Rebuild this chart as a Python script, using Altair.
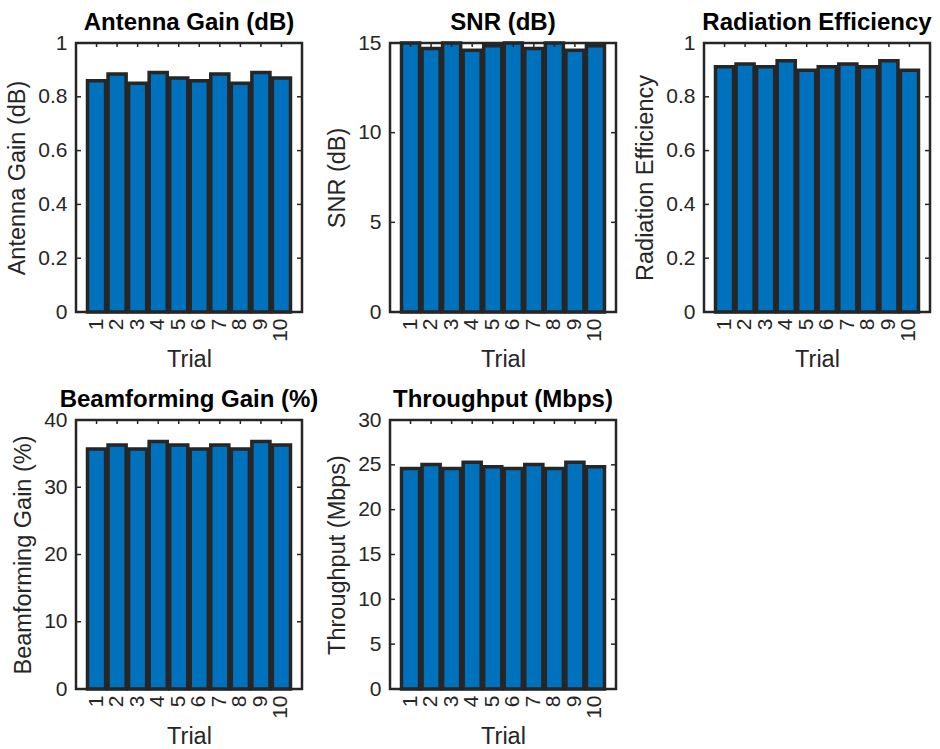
import altair as alt
import pandas as pd

trials = ["1", "2", "3", "4", "5", "6", "7", "8", "9", "10"]

antenna_gain = [0.86, 0.885, 0.85, 0.89, 0.87, 0.86, 0.885, 0.85, 0.89, 0.87]
snr = [15.0, 14.7, 15.0, 14.6, 14.85, 15.0, 14.7, 15.0, 14.6, 14.85]
rad_eff = [0.912, 0.922, 0.912, 0.934, 0.899, 0.912, 0.922, 0.912, 0.934, 0.899]
beam_gain = [35.7, 36.3, 35.7, 36.8, 36.3, 35.7, 36.3, 35.7, 36.8, 36.3]
throughput = [24.6, 25.05, 24.6, 25.3, 24.8, 24.6, 25.05, 24.6, 25.3, 24.8]

ticks_unit = [0, 0.2, 0.4, 0.6, 0.8, 1]
ticks_snr = [0, 5, 10, 15]
ticks_beam = [0, 10, 20, 30, 40]
ticks_thr = [0, 5, 10, 15, 20, 25, 30]

FONT = "Liberation Sans"
AX = "#262626"
BAR = "#0072BD"
W, H = 226, 269


def panel(values, title, ylab, ymax, yticks):
    df = pd.DataFrame({"Trial": trials, "v": values})
    tdf = pd.DataFrame({"v": yticks})
    xs = alt.Scale(domain=trials, paddingInner=0.12, paddingOuter=0.56)
    ys = alt.Scale(domain=[0, ymax], nice=False, zero=True)
    xaxis = alt.Axis(title="Trial", labelAngle=270, ticks=False, tickSize=0,
                     domain=False, labelPadding=6, titlePadding=6)
    yaxis = alt.Axis(title=ylab, values=yticks, format=".2~f", ticks=False,
                     tickSize=0, domain=False, grid=False, labelPadding=9,
                     titlePadding=8)
    X = alt.X("Trial:N", sort=trials, scale=xs, axis=xaxis)
    Y = alt.Y("v:Q", scale=ys, axis=yaxis)
    bars = alt.Chart(df).mark_bar(fill=BAR, stroke=AX, strokeWidth=3.5).encode(x=X, y=Y)
    lt = alt.Chart(tdf).mark_rule(color=AX, strokeWidth=1.5).encode(
        y=Y, x=alt.value(0), x2=alt.value(5))
    rt = alt.Chart(tdf).mark_rule(color=AX, strokeWidth=1.5).encode(
        y=Y, x=alt.value(W - 5), x2=alt.value(W))
    tt = alt.Chart(df).mark_rule(color=AX, strokeWidth=1.5).encode(
        x=X, y=alt.value(0), y2=alt.value(4))
    return alt.layer(bars, lt, rt, tt).properties(
        width=W, height=H,
        title=alt.Title(title, fontSize=24, fontWeight="bold", font=FONT,
                        color="#000000", offset=-3))


p1 = panel(antenna_gain, "Antenna Gain (dB)", "Antenna Gain (dB)", 1, ticks_unit)
p2 = panel(snr, "SNR (dB)", "SNR (dB)", 15, ticks_snr)
p3 = panel(rad_eff, "Radiation Efficiency", "Radiation Efficiency", 1, ticks_unit)
p4 = panel(beam_gain, "Beamforming Gain (%)", "Beamforming Gain (%)", 40, ticks_beam)
p5 = panel(throughput, "Throughput (Mbps)", "Throughput (Mbps)", 30, ticks_thr)

chart = alt.concat(p1, p2, p3, p4, p5, columns=3,
                   spacing={"row": 108, "column": 88}, bounds="flush").properties(
    padding={"left": 4, "top": 9, "right": 5, "bottom": 5},
    background="white",
).configure_view(
    stroke=AX, strokeWidth=2.5
).configure_axis(
    labelFont=FONT, titleFont=FONT, labelFontSize=21, titleFontSize=23.5,
    labelColor=AX, titleColor=AX, titleFontWeight="normal"
).configure_title(anchor="middle")

chart.save("out.html", embed_options={"renderer": "svg", "actions": False})
